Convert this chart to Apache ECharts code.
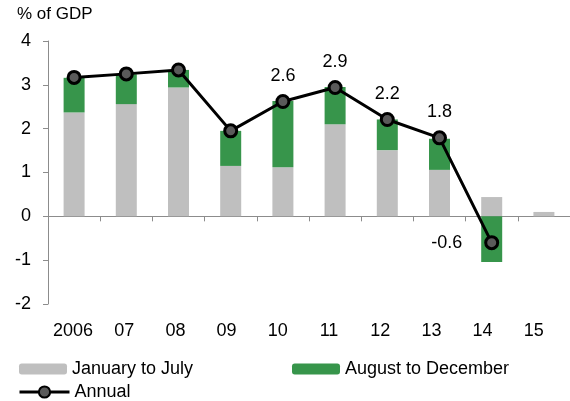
<!DOCTYPE html>
<html>
<head>
<meta charset="utf-8">
<script src="https://cdn.jsdelivr.net/npm/echarts@6/dist/echarts.min.js"></script>
<style>
  html, body { margin: 0; padding: 0; background: #fff; }
  #chart { width: 570px; height: 401px; }
</style>
</head>
<body>
<div id="chart"></div>
<script>
const years = ['2006', '07', '08', '09', '10', '11', '12', '13', '14', '15']
const janToJul = [2.37, 2.56, 2.94, 1.15, 1.12, 2.10, 1.51, 1.06, 0.44, 0.10]
const augToDec = [0.79, 0.68, 0.40, 0.80, 1.51, 0.85, 0.70, 0.71, -1.04, null]
const annual = [3.17, 3.25, 3.34, 1.95, 2.62, 2.94, 2.21, 1.79, -0.60, null]
const labelled = [false, false, false, false, true, true, true, true, true, false]
const yTicks = [-2, -1, 0, 1, 2, 3, 4]

const font = 'Liberation Sans, Arial, sans-serif'
const axisGrey = '#8c8c8c'
const fs = 18

const chart = echarts.init(document.getElementById('chart'))

const legendText = { fontFamily: font, fontSize: fs, color: '#000' }

chart.setOption({
  animation: false,
  textStyle: { fontFamily: font, color: '#000' },
  title: {
    text: '% of GDP',
    left: 17, top: 6, padding: 0,
    textStyle: { fontFamily: font, fontSize: 17, fontWeight: 'normal', color: '#000' }
  },
  legend: [
    {
      data: ['January to July'], left: 19, top: 360, padding: 0,
      itemWidth: 48, itemHeight: 11,
      textStyle: legendText
    },
    {
      data: ['August to December'], left: 292, top: 360, padding: 0,
      itemWidth: 48, itemHeight: 11,
      textStyle: legendText
    },
    {
      data: ['Annual'], left: 18, top: 383, padding: 0,
      itemWidth: 50, itemHeight: 14,
      lineStyle: { width: 3 },
      textStyle: legendText
    }
  ],
  grid: [
    { left: 48, top: 41, width: 529, height: 263 },
    { left: 47.4, top: 41, width: 512, height: 263 }
  ],
  xAxis: [
    {
      type: 'category', gridIndex: 0, data: years,
      axisLine: { onZero: true, lineStyle: { color: axisGrey, width: 1 } },
      axisTick: { show: true, interval: 0, length: 5, lineStyle: { color: axisGrey } },
      axisLabel: { show: false }
    },
    {
      type: 'category', gridIndex: 1, data: years,
      axisLine: { show: false },
      axisTick: { show: false },
      axisLabel: { interval: 0, margin: 18, fontSize: fs, color: '#000', fontFamily: font }
    }
  ],
  yAxis: [
    {
      type: 'value', gridIndex: 0, min: -2, max: 4, interval: 1,
      splitLine: { show: false },
      axisLine: { show: true, lineStyle: { color: axisGrey, width: 1 } },
      axisTick: { show: true, length: 5, lineStyle: { color: axisGrey } },
      axisLabel: {
        margin: 17, fontSize: fs, color: '#000', fontFamily: font,
        customValues: yTicks
      }
    },
    { type: 'value', gridIndex: 1, show: false, min: -2, max: 4 }
  ],
  series: [
    {
      name: 'January to July', type: 'bar', stack: 'flow',
      xAxisIndex: 0, yAxisIndex: 0,
      barWidth: 21,
      itemStyle: { color: '#bfbfbf' },
      data: janToJul
    },
    {
      name: 'August to December', type: 'bar', stack: 'flow',
      xAxisIndex: 0, yAxisIndex: 0,
      barWidth: 21,
      itemStyle: { color: '#37954b' },
      data: augToDec
    },
    {
      name: 'Annual', type: 'line',
      xAxisIndex: 0, yAxisIndex: 0,
      z: 5,
      symbol: 'circle', symbolSize: 12,
      lineStyle: { color: '#000', width: 3 },
      itemStyle: { color: '#5a5a5a', borderColor: '#000', borderWidth: 3 },
      data: annual.map((v, i) => ({
        value: v,
        label: {
          show: labelled[i],
          position: v < 0 ? 'left' : 'top',
          distance: v < 0 ? 22 : 9,
          formatter: p => p.value.toFixed(1),
          fontSize: fs, color: '#000', fontFamily: font
        }
      }))
    }
  ]
})
</script>
</body>
</html>
